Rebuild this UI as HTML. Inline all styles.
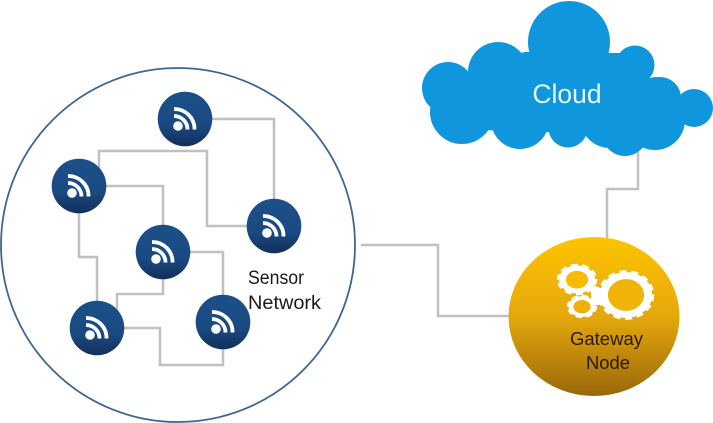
<!DOCTYPE html>
<html>
<head>
<meta charset="utf-8">
<style>
html,body{margin:0;padding:0;background:#fff;width:713px;height:423px;overflow:hidden}
svg{display:block}
</style>
</head>
<body>
<svg width="713" height="423" viewBox="0 0 713 423" xmlns="http://www.w3.org/2000/svg">
<defs>
<linearGradient id="n" x1="0" y1="0" x2="0" y2="1">
<stop offset="0" stop-color="#1c4f88"/><stop offset="0.6" stop-color="#1a4a82"/><stop offset="1" stop-color="#122f5a"/>
</linearGradient>
<linearGradient id="g" x1="0" y1="0" x2="0" y2="1">
<stop offset="0" stop-color="#fdc400"/><stop offset="0.5" stop-color="#e5a80c"/><stop offset="1" stop-color="#99680a"/>
</linearGradient>
<g id="node">
<circle r="27.3" fill="url(#n)"/>
<circle cx="-7" cy="7" r="4.8" fill="#fff"/>
<path d="M-11,-3 A13.5,13.5 0 0 1 2.500,10.500" fill="none" stroke="#fff" stroke-width="3.8"/>
<path d="M-11,-10 A20,20 0 0 1 9.500,10.500" fill="none" stroke="#fff" stroke-width="3.8"/>
</g>
</defs>

<circle cx="178" cy="245" r="177" fill="#fff" stroke="#3d6790" stroke-width="1.8"/>

<g fill="none" stroke="#c0c0c0" stroke-width="2.500">
<path d="M185,119H274V226"/>
<path d="M99,170V151H207V226H274"/>
<path d="M79,186H163V252"/>
<path d="M79,186V257H97V328"/>
<path d="M163,252H223V322"/>
<path d="M163,252V294H117V315"/>
<path d="M97,328H160V365H223V322"/>
<path d="M361,245H438V316H512"/>
<path d="M638,150V189H607V240"/>
</g>

<use href="#node" x="185" y="119"/>
<use href="#node" x="79" y="186"/>
<use href="#node" x="163" y="252"/>
<use href="#node" x="274" y="226"/>
<use href="#node" x="97" y="328"/>
<use href="#node" x="223" y="322"/>

<text x="248" y="284" font-family="'Liberation Sans',sans-serif" font-size="19" fill="#1a1a1a" textLength="56" lengthAdjust="spacingAndGlyphs">Sensor</text>
<text x="248" y="309" font-family="'Liberation Sans',sans-serif" font-size="19" fill="#1a1a1a" textLength="73" lengthAdjust="spacingAndGlyphs">Network</text>

<g fill="#0f96dc">
<circle cx="569" cy="42" r="41"/>
<circle cx="448" cy="88" r="26"/>
<circle cx="498" cy="72" r="30"/>
<circle cx="635" cy="65" r="19.500"/>
<circle cx="660" cy="98" r="21"/>
<circle cx="694" cy="108" r="19"/>
<circle cx="462" cy="112" r="32"/>
<circle cx="520" cy="120" r="29"/>
<circle cx="568" cy="128" r="19.500"/>
<circle cx="610" cy="118" r="30"/>
<circle cx="625" cy="133" r="23"/>
<circle cx="655" cy="120" r="30"/>
<path d="M450,90L490,60L525,52L620,53L640,80L655,77L664,78L672,110L640,135L480,130Z"/>
</g>
<text x="567" y="103" text-anchor="middle" font-family="'Liberation Sans',sans-serif" font-size="26.500" fill="#e8f6fd">Cloud</text>

<ellipse cx="594" cy="316.500" rx="85.500" ry="79.500" fill="url(#g)"/>

<path d="M590,284L606,290L604,304L592,306Z" fill="#fff"/>
<g fill="none" stroke="#fff">
<g transform="translate(626 295) scale(1 .88)">
<circle r="22" stroke-width="8"/>
<circle r="25.500" stroke-width="5.500" pathLength="28" stroke-dasharray="1.200 .800"/>
</g>
<g transform="translate(577 279.500) scale(1 .78)">
<circle r="14.500" stroke-width="7"/>
<circle r="18" stroke-width="4.500" pathLength="20" stroke-dasharray="1.200 .800"/>
</g>
<g transform="translate(582 306.500) scale(1 .77)">
<circle r="11" stroke-width="5"/>
<circle r="13.500" stroke-width="3.500" pathLength="16" stroke-dasharray="1.200 .800"/>
</g>
</g>
<ellipse cx="626" cy="295" rx="18" ry="15.500" fill="#f0b308"/>
<ellipse cx="577" cy="280" rx="11" ry="8.500" fill="#f7bb06"/>
<ellipse cx="582" cy="307" rx="8.500" ry="6.300" fill="#eeb009"/>

<text x="606.500" y="345" text-anchor="middle" font-family="'Liberation Sans',sans-serif" font-size="18.500" fill="#2a1a05" textLength="73" lengthAdjust="spacingAndGlyphs">Gateway</text>
<text x="608" y="369" text-anchor="middle" font-family="'Liberation Sans',sans-serif" font-size="18.500" fill="#2a1a05" textLength="44" lengthAdjust="spacingAndGlyphs">Node</text>
</svg>
</body>
</html>
